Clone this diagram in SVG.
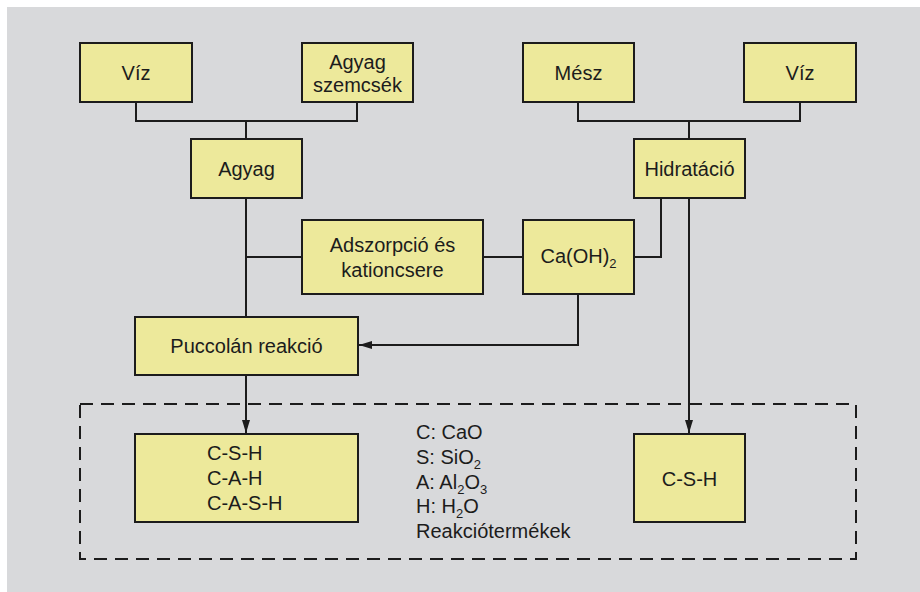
<svg xmlns="http://www.w3.org/2000/svg" width="920" height="592" viewBox="0 0 920 592">
<defs>
<style>
.box{fill:#ede99b;stroke:#1c1c1c;stroke-width:2}
.t{font-family:"Liberation Sans",Arial,sans-serif;font-size:20px;fill:#1c1c1c;text-anchor:middle}
.l{font-family:"Liberation Sans",Arial,sans-serif;font-size:20px;fill:#1c1c1c}
.c{fill:none;stroke:#1c1c1c;stroke-width:2}
.sub{font-size:13px}
</style>
<marker id="arr" markerUnits="userSpaceOnUse" markerWidth="14" markerHeight="10" refX="13" refY="4" orient="auto">
<path d="M0,0 L13,4 L0,8 z" fill="#1c1c1c"/>
</marker>
</defs>
<rect x="0" y="0" width="920" height="592" fill="#ffffff"/>
<rect x="7" y="7" width="913" height="585" fill="#d8d9db"/>

<g id="connectors">
<path class="c" d="M136,102 V121 H357 V102 M246,121 V139"/>
<path class="c" d="M578,102 V121 H800 V102 M689,121 V139"/>
<path class="c" d="M246,198 V317 M246,257 H302"/>
<path class="c" d="M483,257 H523"/>
<path class="c" d="M634,257 H661 V198"/>
<path class="c" d="M689,198 V433" marker-end="url(#arr)"/>
<path class="c" d="M578,294 V345 H359" marker-end="url(#arr)"/>
<path class="c" d="M246,375 V433" marker-end="url(#arr)"/>
<rect x="80" y="404" width="776" height="155" fill="none" stroke="#1c1c1c" stroke-width="2" stroke-dasharray="13,8"/>
</g>

<g id="viz1"><rect class="box" x="80" y="43" width="112" height="59"/><text class="t" x="136" y="80">Víz</text></g>
<g id="agyag-szemcsek"><rect class="box" x="302" y="43" width="111" height="59"/><text class="t" x="357.5" y="69">Agyag</text><text class="t" x="357.5" y="92">szemcsék</text></g>
<g id="mesz"><rect class="box" x="523" y="43" width="111" height="59"/><text class="t" x="578.5" y="80">Mész</text></g>
<g id="viz2"><rect class="box" x="744" y="43" width="112" height="59"/><text class="t" x="800" y="80">Víz</text></g>
<g id="agyag"><rect class="box" x="191" y="139" width="111" height="59"/><text class="t" x="246.5" y="176">Agyag</text></g>
<g id="hidratacio"><rect class="box" x="634" y="139" width="111" height="59"/><text class="t" x="689.5" y="176">Hidratáció</text></g>
<g id="adszorpcio"><rect class="box" x="302" y="220" width="181" height="74"/><text class="t" x="392.5" y="252">Adszorpció és</text><text class="t" x="392.5" y="277">kationcsere</text></g>
<g id="caoh2"><rect class="box" x="523" y="220" width="111" height="74"/><text class="t" x="578.5" y="263">Ca(OH)<tspan class="sub" dy="5">2</tspan></text></g>
<g id="puccolan"><rect class="box" x="135" y="317" width="223" height="58"/><text class="t" x="246.5" y="353">Puccolán reakció</text></g>
<g id="termekek1"><rect class="box" x="135" y="434" width="223" height="88"/><text class="l" x="207" y="460">C-S-H</text><text class="l" x="207" y="485">C-A-H</text><text class="l" x="207" y="510">C-A-S-H</text></g>
<g id="termekek2"><rect class="box" x="634" y="434" width="111" height="88"/><text class="t" x="689.5" y="486">C-S-H</text></g>
<g id="jelmagyarazat">
<text class="l" x="416" y="439">C: CaO</text>
<text class="l" x="416" y="464">S: SiO<tspan class="sub" dy="5">2</tspan></text>
<text class="l" x="416" y="489">A: Al<tspan class="sub" dy="5">2</tspan><tspan dy="-5">O</tspan><tspan class="sub" dy="5">3</tspan></text>
<text class="l" x="416" y="513">H: H<tspan class="sub" dy="5">2</tspan><tspan dy="-5">O</tspan></text>
<text class="l" x="416" y="538">Reakciótermékek</text>
</g>
</svg>
